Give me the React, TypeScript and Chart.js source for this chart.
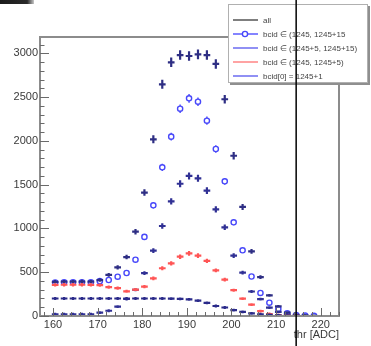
import { useEffect, useRef } from 'react';
import { Chart, registerables } from 'chart.js';

Chart.register(...registerables);

// ---------- data ----------
const binCenters = [
  160.5, 162.5, 164.5, 166.5, 168.5, 170.5, 172.5, 174.5, 176.5, 178.5,
  180.5, 182.5, 184.5, 186.5, 188.5, 190.5, 192.5, 194.5, 196.5, 198.5,
  200.5, 202.5, 204.5, 206.5, 208.5, 210.5, 212.5, 214.5, 216.5, 218.5, 220.5,
];

const countsAll = [
  390, 392, 392, 393, 392, 410, 470, 556, 673, 963,
  1410, 2018, 2646, 2897, 2980, 2969, 2988, 2980, 2878, 2475,
  1830, 1245, 738, 443, 236, 110, 38, 12, 4, 1, 0,
];

const countsWin0to15 = [
  383, 385, 385, 385, 385, 398, 411, 449, 491, 643,
  903, 1264, 1698, 2048, 2367, 2486, 2447, 2230, 1907, 1538,
  1070, 750, 451, 263, 152, 80, 30, 10, 4, 1, 0,
];

const countsWin5to15 = [
  20, 20, 20, 20, 20, 38, 60, 106, 194, 300,
  490, 746, 1028, 1308, 1510, 1599, 1572, 1431, 1218, 1013,
  689, 495, 280, 193, 95, 48, 15, 5, 2, 0, 0,
];

const countsWin0to5 = [
  355, 357, 357, 357, 356, 352, 330, 318, 282, 302,
  335, 430, 545, 602, 677, 716, 689, 630, 521, 415,
  295, 198, 131, 55, 23, 10, 4, 1, 0, 0, 0,
];

const countsBcid0 = [
  200, 200, 200, 200, 200, 200, 200, 200, 200, 200,
  200, 200, 200, 198, 195, 190, 175, 150, 114, 97,
  66, 46, 30, 20, 12, 8, 4, 2, 1, 0, 0,
];

const seriesLabels = [
  'all',
  'bcid \u2208 (1245, 1245+15',
  'bcid \u2208 (1245+5, 1245+15)',
  'bcid \u2208 (1245, 1245+5)',
  'bcid[0] = 1245+1',
];

const xTickValues = [160, 170, 180, 190, 200, 210, 220];
const yTickValues = [0, 500, 1000, 1500, 2000, 2500, 3000];
const xMinorStep = 2;
const yMinorStep = 100;
const xMin = 157.1;
const xMax = 224.1;
const yMin = 0;
const yMax = 3186;
const cursorThr = 214.5;
const xTitle = 'thr [ADC]';

// ---------- styles ----------
const FONT = 'Liberation Sans, Arial, Helvetica, sans-serif';
const barHalf = 0.75;
const circleR = 2.6;
const minHalfPx = 1.4;

type Kind = 'cross' | 'circle';
const series: { data: number[]; color: string; legendColor: string; kind: Kind }[] = [
  { data: countsAll, color: 'rgb(46,46,132)', legendColor: '#555555', kind: 'cross' },
  { data: countsWin0to15, color: 'rgb(72,72,250)', legendColor: '#5b5bff', kind: 'circle' },
  { data: countsWin5to15, color: 'rgb(48,48,148)', legendColor: '#6b6bf0', kind: 'cross' },
  { data: countsWin0to5, color: 'rgb(255,85,85)', legendColor: '#ff8585', kind: 'cross' },
  { data: countsBcid0, color: 'rgb(42,42,138)', legendColor: '#6b6bf0', kind: 'cross' },
];

const legendBox = { left: 228, top: 4, width: 140, height: 79, rowStart: 16, rowStep: 14 };

const rootPlugin = {
  id: 'rootStyle',
  beforeDraw(chart: any) {
    const c = chart.ctx;
    c.save();
    c.fillStyle = '#ffffff';
    c.fillRect(0, 0, chart.width, chart.height);
    c.restore();
  },
  afterDatasetsDraw(chart: any) {
    const { ctx, chartArea: a } = chart;
    const xs = chart.scales.x;
    const ys = chart.scales.y;
    ctx.save();
    ctx.beginPath();
    ctx.rect(a.left, a.top, a.right - a.left, a.bottom - a.top);
    ctx.clip();
    series.forEach((s, i) => {
      const meta = chart.getDatasetMeta(i);
      ctx.beginPath();
      meta.data.forEach((pt: any, j: number) => {
        const v = s.data[j];
        if (!(v > 0)) return;
        const e = Math.sqrt(v);
        const px = pt.x;
        const py = pt.y;
        let yt = ys.getPixelForValue(v + e);
        let yb = ys.getPixelForValue(Math.max(v - e, 0));
        if (s.kind === 'cross') {
          yt = Math.min(yt, py - minHalfPx);
          yb = Math.max(yb, py + minHalfPx);
          ctx.moveTo(xs.getPixelForValue(binCenters[j] - barHalf), py);
          ctx.lineTo(xs.getPixelForValue(binCenters[j] + barHalf), py);
          ctx.moveTo(px, yt);
          ctx.lineTo(px, yb);
        } else {
          if (py - yt > circleR) {
            ctx.moveTo(px, yt);
            ctx.lineTo(px, py - circleR);
          }
          if (yb - py > circleR) {
            ctx.moveTo(px, py + circleR);
            ctx.lineTo(px, yb);
          }
        }
      });
      ctx.strokeStyle = s.color;
      ctx.lineWidth = s.kind === 'cross' ? 2.2 : 1.4;
      ctx.stroke();
    });
    ctx.restore();
  },
  afterDraw(chart: any) {
    const { ctx, chartArea: a } = chart;
    const xs = chart.scales.x;
    const ys = chart.scales.y;
    ctx.save();

    // frame
    ctx.strokeStyle = '#8c8c8c';
    ctx.lineWidth = 2;
    ctx.strokeRect(a.left, a.top, a.right - a.left, a.bottom - a.top);

    // inward ticks
    ctx.beginPath();
    for (let v = yMin; v <= yMax; v += yMinorStep) {
      const y = Math.round(ys.getPixelForValue(v)) + 0.5;
      const major = yTickValues.includes(v);
      ctx.moveTo(a.left, y);
      ctx.lineTo(a.left + (major ? 9 : 4.5), y);
    }
    const firstX = Math.ceil(xMin / xMinorStep) * xMinorStep;
    for (let v = firstX; v <= xMax; v += xMinorStep) {
      const x = Math.round(xs.getPixelForValue(v)) + 0.5;
      const major = xTickValues.includes(v);
      ctx.moveTo(x, a.bottom);
      ctx.lineTo(x, a.bottom - (major ? 8 : 4));
    }
    ctx.strokeStyle = '#6a6a6a';
    ctx.lineWidth = 1;
    ctx.stroke();

    // legend
    const L = legendBox;
    ctx.fillStyle = '#8f8f8f';
    ctx.fillRect(L.left + 2, L.top + 2, L.width, L.height);
    ctx.fillStyle = '#ffffff';
    ctx.fillRect(L.left, L.top, L.width, L.height);
    ctx.strokeStyle = '#b0b0b0';
    ctx.lineWidth = 1;
    ctx.strokeRect(L.left + 0.5, L.top + 0.5, L.width - 1, L.height - 1);
    ctx.font = `8px ${FONT}`;
    ctx.textBaseline = 'middle';
    ctx.textAlign = 'left';
    chart.data.datasets.forEach((ds: any, i: number) => {
      const s = series[i];
      const y = L.top + L.rowStart + L.rowStep * i;
      ctx.beginPath();
      ctx.moveTo(L.left + 5, y);
      ctx.lineTo(L.left + 30, y);
      ctx.strokeStyle = s.legendColor;
      ctx.lineWidth = 1.5;
      ctx.stroke();
      if (s.kind === 'circle') {
        ctx.beginPath();
        ctx.arc(L.left + 17, y, circleR, 0, Math.PI * 2);
        ctx.fillStyle = '#ffffff';
        ctx.fill();
        ctx.strokeStyle = s.color;
        ctx.lineWidth = 1.4;
        ctx.stroke();
      }
      ctx.fillStyle = '#444444';
      ctx.fillText(ds.label, L.left + 35, y + 0.5);
    });

    // vertical cursor line across the whole picture
    const cx = xs.getPixelForValue(cursorThr);
    ctx.beginPath();
    ctx.moveTo(cx, 0);
    ctx.lineTo(cx, chart.height);
    ctx.strokeStyle = '#000000';
    ctx.lineWidth = 1.5;
    ctx.stroke();

    // dark strip in the top-left corner
    const g = ctx.createLinearGradient(0, 0, 34, 0);
    g.addColorStop(0, '#1a1a1a');
    g.addColorStop(0.8, '#2a2a2a');
    g.addColorStop(1, '#c8c8c8');
    ctx.fillStyle = g;
    ctx.fillRect(0, 0, 34, 4);

    ctx.restore();
  },
};

export default function App() {
  const ref = useRef<HTMLCanvasElement>(null);

  useEffect(() => {
    const canvas = ref.current;
    if (!canvas) return;
    const tickFont = { family: FONT, size: 11 };
    const datasets = series.map((s, i) => ({
      label: seriesLabels[i],
      data: binCenters.map((x, j) => ({ x, y: s.data[j] })),
      borderColor: s.color,
      backgroundColor: 'rgba(0,0,0,0)',
      pointBorderColor: s.color,
      pointBackgroundColor: 'rgba(0,0,0,0)',
      pointStyle: 'circle',
      pointRadius: s.kind === 'circle' ? (c: any) => (c.raw && c.raw.y > 0 ? circleR : 0) : 0,
      pointHoverRadius: 0,
      pointBorderWidth: 1.4,
      showLine: false,
    }));

    const chart = new Chart(canvas, {
      type: 'scatter',
      data: { datasets } as any,
      options: {
        animation: false,
        responsive: false,
        maintainAspectRatio: false,
        devicePixelRatio: 1,
        events: [],
        layout: { padding: { top: 37, right: 32, left: 0, bottom: 0 } },
        plugins: {
          legend: { display: false },
          tooltip: { enabled: false },
        },
        scales: {
          x: {
            type: 'linear',
            min: xMin,
            max: xMax,
            afterBuildTicks: (s: any) => {
              s.ticks = xTickValues.map((v) => ({ value: v }));
            },
            afterFit: (s: any) => {
              s.height = 30;
            },
            grid: { display: false, drawTicks: false },
            border: { display: false },
            ticks: {
              font: tickFont,
              color: '#3a3a3a',
              padding: 2,
              maxRotation: 0,
              autoSkip: false,
              callback: (v: any) => String(v),
            },
            title: {
              display: true,
              text: xTitle,
              align: 'end',
              color: '#3a3a3a',
              font: tickFont,
              padding: { top: 0, bottom: 4 },
            },
          },
          y: {
            type: 'linear',
            min: yMin,
            max: yMax,
            afterBuildTicks: (s: any) => {
              s.ticks = yTickValues.map((v) => ({ value: v }));
            },
            afterFit: (s: any) => {
              s.width = 40;
            },
            grid: { display: false, drawTicks: false },
            border: { display: false },
            ticks: {
              font: tickFont,
              color: '#3a3a3a',
              padding: 2,
              autoSkip: false,
              callback: (v: any) => String(v),
            },
          },
        },
      } as any,
      plugins: [rootPlugin],
    });

    return () => chart.destroy();
  }, []);

  return (
    <div style={{ position: 'fixed', left: 0, top: 0, width: 371, height: 346, background: '#fff' }}>
      <canvas ref={ref} width={371} height={346} style={{ display: 'block', width: 371, height: 346 }} />
    </div>
  );
}
